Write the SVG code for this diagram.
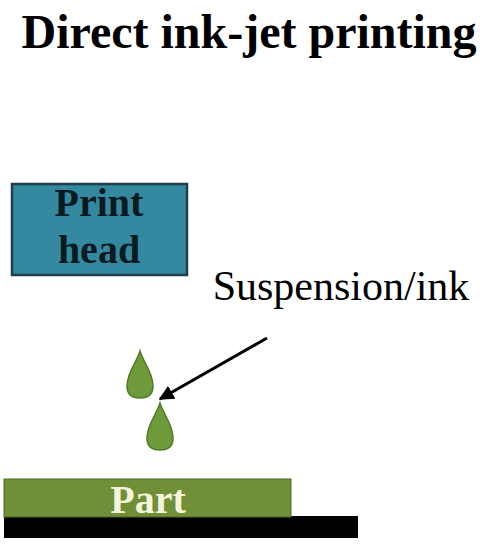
<svg xmlns="http://www.w3.org/2000/svg" width="480" height="544" viewBox="0 0 480 544">
<defs>
<style>
text{font-family:'Liberation Serif','Times New Roman','DejaVu Serif',serif}
.title{font-weight:bold;font-size:48px;fill:#000}
.lbl{font-size:42px;fill:#000}
.bold{font-weight:bold;font-size:40px}
.drop{fill:#6e9a3a;stroke:#4f7a28;stroke-width:1.5}
</style>
<marker id="ah" viewBox="0 0 10 10" refX="9" refY="5" markerWidth="5" markerHeight="5" orient="auto-start-reverse" markerUnits="strokeWidth">
<path d="M0,0 L10,5 L0,10 z" fill="#000"/>
</marker>
</defs>
<rect width="480" height="544" fill="#fff"/>
<g id="title"><text class="title" x="249" y="48" text-anchor="middle">Direct ink-jet printing</text></g>
<g id="printhead">
<rect x="12" y="184" width="175" height="91" fill="#34889f" stroke="#1f3e48" stroke-width="2.5"/>
<text class="bold" x="99" y="216" text-anchor="middle" fill="#0b1a1f">Print</text>
<text class="bold" x="99" y="263" text-anchor="middle" fill="#0b1a1f">head</text>
</g>
<g id="label"><text class="lbl" x="341" y="300" text-anchor="middle">Suspension/ink</text></g>
<g id="droplets">
<path class="drop" d="M140,351 C143,362 153,372 153,386 C153,395 147,398 140,398 C133,398 127,395 127,386 C127,372 137,362 140,351 Z"/>
<path class="drop" d="M160,403 C163,414 173,424 173,438 C173,447 167,450 160,450 C153,450 147,447 147,438 C147,424 157,414 160,403 Z"/>
</g>
<g id="connectors">
<line x1="267" y1="338" x2="160" y2="399" stroke="#000" stroke-width="3" marker-end="url(#ah)"/>
</g>
<g id="part">
<rect x="4" y="516" width="354" height="22" fill="#000"/>
<rect x="4" y="479" width="287" height="38" fill="#718f37" stroke="#4d6a22" stroke-width="1"/>
<text class="bold" x="148" y="513" text-anchor="middle" fill="#f4f4dc">Part</text>
</g>
</svg>
